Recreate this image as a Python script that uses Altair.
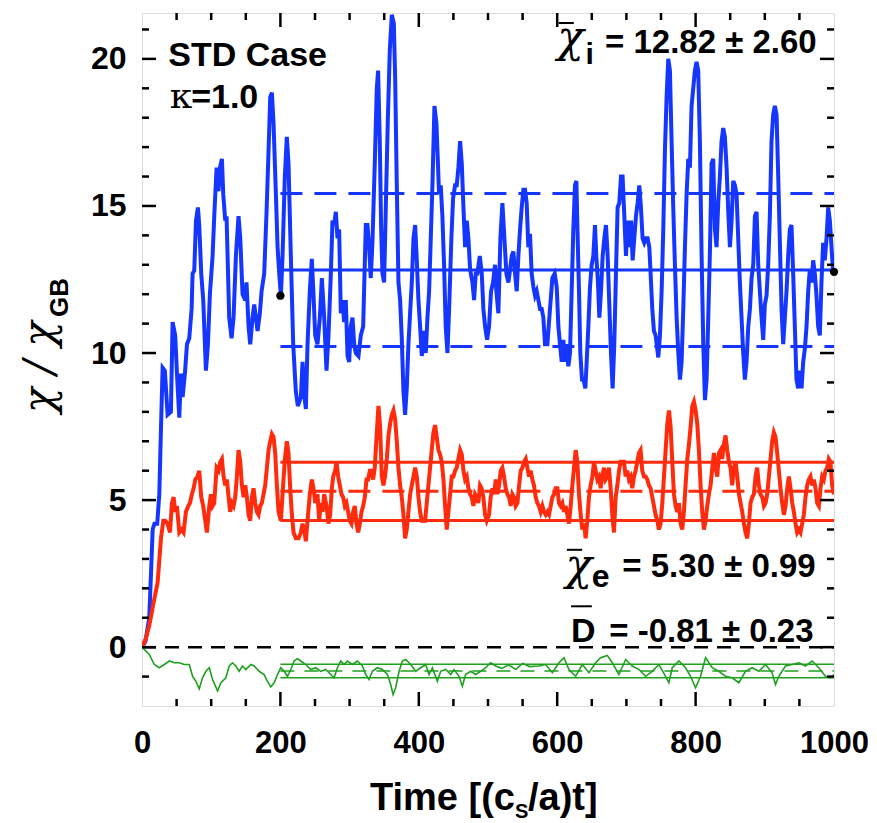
import altair as alt
import pandas as pd

FONT = "Liberation Sans"
GREEK = "DejaVu Serif"

# ---------------- data ----------------
chi_i = [(0,0),(5,0.2),(10.5,1.0),(13,2.5),(15.4,4.0),(18,4.2),(22,4.2),(25,5.2),(27.5,7.5),(29.8,9.5),(33,9.4),(37,7.9),(41.8,8.0),(44.2,11.05),(48,10.6),(50.5,9.3),(53.9,7.8),(56.3,9.3),(58.7,8.5),(62,9.3),(65,10.3),(68.3,10.5),(71.7,11.5),(73.1,12.7),(75.5,12.8),(78,14.5),(80.8,14.95),(82.7,14.35),(85.6,12.7),(88.5,11.8),(92.4,9.4),(95.3,10.3),(98.1,12.0),(102,13.3),(104.4,14.65),(107.8,16.3),(110.6,15.5),(112.6,16.3),(115.5,16.6),(117.4,15.4),(120.3,14.5),(122.2,14.65),(126,11.2),(129.4,10.5),(132.3,11.2),(135.7,13.3),(139.5,14.65),(142,13.9),(145.3,12.0),(149.2,11.8),(151,12.4),(154,10.9),(156.4,10.3),(159.7,11.2),(162.2,11.65),(164.6,11.2),(167,10.75),(170.3,11.35),(172.8,12.1),(176.6,12.7),(180,14.8),(182.9,16.9),(185.3,18.7),(187.7,18.85),(190.1,17.8),(193.5,15.4),(195.9,13.6),(198.3,12.7),(200.7,11.95),(203.1,13.3),(206.4,16.0),(209.3,17.35),(211.7,16.45),(215.1,13.3),(218.5,10.3),(222.3,8.7),(225.2,8.2),(229.6,8.5),(232,9.7),(234.9,8.5),(236.8,8.1),(239.2,10.3),(242.5,12.1),(245.4,13.2),(247.8,12.0),(250.3,10.6),(253.6,10.3),(257,11.2),(259.9,12.55),(263.3,11.2),(266.6,9.4),(269.5,10.6),(272.9,12.7),(275.3,14.5),(277.7,14.35),(280.1,14.8),(282.5,13.9),(284.9,14.2),(287.3,11.35),(289.7,11.8),(292.1,11.05),(294.5,11.8),(297,9.9),(299.4,9.7),(301.8,10.9),(304.2,11.2),(306.6,10.3),(309,10.0),(312.8,9.9),(316.2,10.6),(319.6,10.9),(323.4,14.35),(325.8,14.35),(328.2,13.6),(330.6,12.55),(333,13.75),(336.4,16.45),(339.3,19.0),(341.2,19.6),(343.6,17.2),(345.6,14.2),(347.5,12.7),(349.9,12.4),(352.3,14.95),(355.2,17.9),(358.1,20.3),(361,21.5),(363.9,21.2),(365.8,19.4),(368.2,15.7),(370.6,12.4),(373,11.8),(375.4,10.5),(377.8,8.7),(380.2,7.9),(382.6,8.8),(385,10.3),(387.4,11.35),(389.9,12.4),(392.3,13.9),(394.7,14.35),(397.1,13.15),(399.5,11.8),(401.9,10.9),(404.3,9.9),(407.7,10.75),(410.1,10.0),(412.5,11.2),(414.9,12.1),(417.3,13.9),(419.7,15.7),(422.6,18.4),(425.5,17.8),(427.4,16.6),(429.3,15.4),(431.7,15.7),(434.1,14.65),(436.5,13.0),(438.9,10.9),(441.4,10.0),(443.8,11.5),(447.1,13.9),(449.5,15.25),(452.4,15.7),(454.8,15.7),(457.2,16.3),(459.7,17.2),(462.1,16.45),(464.5,14.95),(466.9,13.6),(469.3,14.5),(471.7,13.9),(474.1,12.85),(477.5,12.4),(479.9,11.8),(482.3,12.7),(484.7,12.7),(488.1,13.3),(491,12.7),(493.3,11.5),(495.8,10.9),(498.7,10.45),(501.5,10.9),(504.4,12.1),(507.3,12.4),(510.2,13.0),(512.1,12.1),(515,11.35),(517.9,13.9),(520.8,15.1),(523.7,13.9),(526.6,12.7),(529.5,12.4),(531.9,12.85),(534.3,13.3),(536.7,13.45),(539.1,12.7),(541.5,12.1),(543.9,13.3),(546.3,14.2),(548.7,14.95),(551.1,15.55),(553.5,15.55),(555.9,15.1),(558.3,13.6),(560.7,14.05),(563.1,12.7),(565.6,12.25),(568,11.95),(570.4,12.1),(572.8,11.8),(575.2,11.5),(577.6,11.5),(580,11.2),(582.4,10.3),(585.8,10.3),(589.1,11.35),(593,12.55),(596.4,12.7),(599.3,12.25),(601.7,10.9),(604.1,10.3),(606.5,9.7),(608.9,10.45),(611.3,9.7),(613.7,10.3),(616.1,9.55),(618.5,10.0),(620.9,12.1),(623.3,14.2),(625.7,15.7),(627.7,15.85),(629.6,13.9),(631.5,12.1),(633.4,10.0),(635.8,9.1),(638.2,9.1),(640.7,8.8),(642.6,9.7),(645,10.9),(647.4,12.25),(649.8,13.0),(652.2,13.3),(654.6,14.35),(656.5,13.3),(658.9,12.4),(660.9,11.2),(663.3,12.1),(665.7,13.3),(668.1,13.9),(670.5,14.35),(672.9,13.3),(675.3,11.65),(677.7,10.0),(680.1,8.8),(682.5,10.3),(684.9,12.7),(687.3,14.95),(689.7,15.1),(692.2,16.0),(694.5,16.0),(697,14.65),(699.4,13.3),(701.8,14.5),(704.2,13.6),(706.6,14.5),(709,13.15),(711.4,13.9),(713.8,14.65),(716.2,15.1),(718.6,15.7),(721,14.95),(723.4,13.9),(725.8,13.75),(728.2,13.9),(730.7,13.9),(733.1,13.6),(735,12.7),(737.4,11.5),(739.8,10.75),(742.2,10.6),(746.1,9.85),(748.5,10.6),(750.9,12.1),(753.3,14.2),(755.7,16.9),(758.1,18.7),(760.5,20.0),(762.9,19.6),(765.3,17.2),(767.7,14.95),(770.1,13.0),(772.6,11.2),(775,10.0),(777.4,9.1),(779.8,9.7),(782.2,11.5),(784.6,13.6),(787,15.4),(789.4,16.6),(791.8,16.3),(794.2,18.4),(796.6,19.0),(799,19.6),(801.4,19.9),(803.8,19.6),(806.2,17.2),(808.7,13.3),(811.1,10.3),(813.5,8.4),(815.9,9.1),(818.3,11.2),(820.7,13.45),(823.1,16.45),(825.5,16.6),(827.9,14.2),(830.3,13.6),(832.7,15.1),(835.1,16.0),(837.5,17.2),(839.9,17.65),(842.3,17.35),(844.8,16.3),(847.2,14.8),(849.6,13.6),(852,14.5),(854.4,15.85),(856.8,15.7),(859.2,15.4),(861.6,13.9),(864,12.4),(866.4,11.2),(868.8,10.0),(871.2,9.1),(873.6,9.7),(876.1,10.9),(878.5,11.5),(880.9,12.55),(883.3,13.0),(885.7,14.65),(888.1,14.8),(890.5,13.0),(892.9,12.1),(895.3,11.2),(897.7,10.45),(900.1,11.65),(902.5,11.95),(904.9,13.0),(907.3,14.65),(909.7,17.2),(912.1,18.1),(914.5,18.4),(917,18.1),(919.4,16.0),(921.8,13.75),(924.2,11.5),(926.6,10.3),(929,11.2),(931.4,12.1),(933.8,13.3),(936.2,14.2),(938.6,14.35),(941,12.7),(943.4,10.9),(945.8,9.1),(948.2,8.8),(950.6,9.4),(953.1,8.8),(955.5,9.7),(957.9,10.15),(960.3,10.9),(962.7,12.1),(965.1,12.85),(967.5,12.4),(969.9,13.15),(972.3,12.7),(974.7,11.95),(977.1,10.9),(979.5,10.6),(981.9,12.4),(984.3,13.75),(986.7,13.15),(989.2,13.9),(991.6,14.95),(994,14.5),(996.4,13.6),(998.8,12.7),(1000,12.76)]

chi_e = [(0,0),(5.7,0.3),(10.5,0.74),(17.8,1.64),(22.6,2.2),(27.4,3.7),(30.8,4.3),(33.6,4.3),(37,4.2),(40.4,3.9),(43.3,4.9),(45.7,5.1),(48.1,4.6),(50.5,4.8),(53.9,3.9),(57.2,4.0),(60.1,3.9),(63.5,4.6),(66.9,4.8),(69.3,4.9),(72.1,5.2),(74.6,5.4),(77,5.7),(80.3,5.8),(82.7,6.0),(85.6,5.1),(88.5,4.8),(91.4,4.3),(93.8,3.9),(97.2,4.8),(99.6,5.2),(102,4.8),(104.4,4.9),(107.8,6.1),(110.6,6.0),(113.1,6.3),(115.5,6.4),(117.9,5.8),(120.3,5.5),(122.7,5.7),(125.1,5.1),(127.5,4.6),(129.9,4.9),(132.3,4.8),(134.7,5.1),(137.1,5.8),(139.5,6.7),(142,6.3),(144.4,5.5),(146.8,5.1),(149.2,5.5),(151.6,5.1),(154,4.5),(156.4,4.3),(158.8,5.1),(161.2,5.4),(163.6,4.9),(166,4.6),(168.4,4.5),(170.8,4.8),(173.2,4.9),(175.6,5.2),(178,5.5),(180.5,6.1),(182.9,6.7),(185.3,7.0),(187.7,7.25),(190.1,7.15),(192.5,6.6),(194.9,5.5),(197.3,4.6),(200.7,4.3),(203.1,5.2),(206.5,6.4),(209.3,7.0),(211.7,6.6),(214.2,5.4),(216.6,4.5),(219,3.9),(222.3,3.7),(226.2,3.7),(229.6,3.9),(232,4.2),(234.9,3.9),(236.8,3.6),(239.2,4.3),(242.5,5.2),(245.4,5.7),(247.8,5.4),(250.3,4.9),(253.6,5.2),(256,4.3),(258.4,4.9),(260.9,4.6),(263.3,5.2),(266.6,4.8),(269.5,4.2),(271.9,4.5),(274.3,5.4),(276.3,5.8),(279.1,6.0),(281.1,6.3),(283.5,5.8),(285.9,5.5),(288.3,5.2),(290.7,5.1),(293.1,4.8),(295.5,4.9),(297.9,4.6),(300.3,4.3),(302.7,4.2),(305.1,4.6),(307.5,4.8),(310,4.2),(312.4,3.9),(314.8,4.2),(317.2,4.6),(319.6,4.8),(322,5.1),(324.4,5.7),(326.8,5.7),(329.2,6.0),(331.6,6.0),(334,5.7),(336.4,6.1),(339.3,7.3),(341.7,8.2),(344.1,7.5),(346.5,5.8),(348.9,5.5),(351.3,5.8),(353.8,6.4),(356.2,7.2),(358.6,7.6),(361,7.9),(363.4,8.05),(365.8,7.75),(368.2,7.0),(370.6,6.1),(373,5.5),(375.4,5.1),(377.8,4.5),(380.2,3.7),(382.6,4.0),(385,4.6),(387.5,5.2),(389.9,5.5),(392.3,5.8),(394.7,6.1),(397.1,5.8),(399.5,5.1),(401.9,4.6),(404.3,4.3),(406.7,4.3),(409.1,4.3),(411.5,4.9),(413.9,5.5),(416.3,6.1),(418.7,6.7),(421.1,7.3),(423.5,7.55),(425.9,7.15),(428.4,6.7),(430.8,6.55),(433.2,6.3),(435.6,5.7),(438,4.8),(440.4,4.0),(442.8,4.6),(445.2,5.2),(447.6,5.8),(450,5.8),(452.4,6.0),(454.8,6.1),(457.2,6.4),(459.7,6.7),(462.1,6.55),(464.5,6.0),(466.9,5.7),(469.3,5.8),(471.7,5.4),(474.1,5.2),(476.5,5.1),(478.9,4.8),(481.3,5.2),(483.7,5.1),(486.1,4.9),(488.5,5.5),(490.9,5.4),(493.3,5.1),(495.8,4.5),(498.2,4.3),(501.5,4.5),(503.9,5.1),(506.4,5.4),(508.8,5.2),(511.2,5.7),(513.6,5.2),(516,5.5),(518.4,6.0),(520.8,6.1),(523.2,5.8),(525.6,5.4),(528,5.2),(530.4,5.1),(532.8,4.8),(535.2,5.2),(537.6,5.1),(540,4.8),(542.5,4.9),(544.9,5.5),(547.3,6.0),(549.7,6.1),(552.1,6.3),(554.5,6.4),(556.9,6.1),(559.3,5.8),(561.7,6.0),(564.1,5.7),(566.5,5.5),(568.9,5.1),(571.3,4.9),(573.7,4.8),(576.1,4.6),(578.6,4.8),(581,4.6),(583.4,4.5),(585.8,4.6),(588.2,4.5),(590.6,4.8),(593,5.1),(595.4,5.2),(597.8,5.4),(600.2,5.4),(602.6,4.9),(605,4.8),(607.4,4.9),(609.8,4.6),(612.2,4.8),(614.7,4.5),(617.1,4.2),(619.5,4.8),(621.9,5.5),(624.3,6.1),(626.7,6.7),(629.1,6.3),(631.5,5.2),(633.9,4.5),(636.3,4.0),(638.7,4.2),(641.1,3.7),(643.5,4.3),(645.9,5.1),(648.3,5.5),(650.8,5.8),(653.2,6.3),(655.6,6.0),(658,5.7),(660.4,5.8),(662.8,5.4),(665.2,5.8),(667.6,6.1),(670,5.7),(672.4,5.8),(674.8,6.1),(677.2,5.4),(679.6,4.5),(682,3.9),(684.5,5.1),(686.9,5.5),(689.3,6.0),(691.7,6.3),(694.1,6.3),(696.5,6.3),(698.9,5.8),(701.3,6.0),(703.7,5.7),(706.1,5.8),(708.5,5.4),(710.9,5.8),(713.3,6.0),(715.7,6.3),(718.1,6.6),(720.5,6.7),(722.9,6.0),(725.4,5.8),(727.8,5.8),(730.2,5.7),(732.6,5.5),(735,5.4),(737.4,5.1),(739.8,4.8),(742.2,4.5),(744.6,4.3),(747,4.0),(749.4,4.2),(751.9,4.9),(754.3,5.8),(756.7,6.7),(759.1,7.6),(761.5,8.05),(763.9,7.5),(766.3,6.3),(768.7,5.2),(771.1,4.8),(773.5,4.6),(775.9,4.9),(778.3,4.2),(780.7,4.0),(783.1,4.6),(785.5,5.5),(788,6.4),(790.4,6.9),(792.8,7.5),(795.2,8.2),(797.6,8.35),(800,8.05),(802.4,7.6),(804.8,6.7),(807.2,5.5),(809.6,4.6),(812,4.0),(814.4,4.3),(816.8,4.8),(819.2,5.2),(821.6,5.5),(824.1,6.1),(826.5,6.6),(828.9,6.1),(831.3,5.8),(833.7,6.6),(836.1,6.7),(838.5,6.4),(840.9,6.9),(843.3,7.2),(845.7,6.7),(848.1,6.3),(850.5,6.1),(852.9,5.5),(855.3,6.1),(857.8,6.3),(860.2,5.8),(862.6,5.2),(865,4.9),(867.4,4.6),(869.8,4.2),(872.2,3.9),(874.6,3.7),(877,4.2),(879.4,4.9),(881.8,5.1),(884.2,5.2),(886.6,5.8),(889,6.1),(891.4,5.5),(893.8,5.2),(896.3,5.1),(898.7,4.8),(901.1,4.9),(903.5,5.2),(905.9,5.8),(908.3,6.4),(910.7,7.0),(913.1,7.3),(915.5,7.15),(917.9,6.6),(920.3,6.0),(922.7,5.4),(925.1,4.9),(927.6,4.5),(930,4.8),(932.4,5.4),(934.8,5.8),(937.2,5.4),(939.6,4.9),(942,4.6),(944.4,4.2),(946.8,3.9),(949.2,4.0),(951.6,3.9),(954,4.2),(956.4,4.5),(958.8,5.1),(961.2,5.5),(963.6,5.7),(966,5.8),(968.4,5.5),(970.9,5.7),(973.3,5.4),(975.7,4.9),(978.1,4.8),(980.5,5.4),(982.9,5.8),(985.3,5.7),(987.7,6.0),(990.1,6.1),(992.5,6.4),(994.9,6.3),(997.3,5.5),(1000,5.2)]

d_series = [(0,0),(10.6,-0.25),(17.8,-0.59),(25,-0.70),(32.3,-0.59),(39.5,-0.47),(46.7,-0.53),(53.9,-0.53),(61.1,-0.59),(68.3,-0.59),(73.1,-0.99),(77.9,-1.16),(82.7,-1.42),(87.5,-1.04),(92.3,-0.82),(97.2,-0.70),(102,-1.10),(109.2,-1.49),(114,-1.21),(121.2,-1.04),(126,-0.64),(130.8,-0.53),(135.6,-0.64),(140.4,-0.82),(145.2,-0.64),(150,-0.76),(157.3,-0.59),(162.1,-0.64),(169.3,-0.82),(176.5,-0.93),(181.3,-1.16),(186.1,-1.35),(190.9,-1.21),(195.8,-0.93),(200.6,-0.70),(205.4,-0.82),(210.2,-0.99),(215,-0.76),(219.8,-0.47),(224.6,-0.39),(229.4,-0.47),(236.7,-0.59),(243.9,-0.76),(251.1,-0.70),(258.3,-0.82),(265.5,-0.76),(272.8,-0.93),(277.6,-1.04),(282.4,-0.70),(287.2,-0.47),(292,-0.59),(296.8,-0.47),(304.1,-0.59),(311.3,-0.47),(318.5,-0.64),(323.3,-0.93),(328.1,-1.10),(332.9,-0.82),(340.2,-0.70),(347.4,-0.76),(354.6,-0.93),(359.4,-1.27),(362.8,-1.61),(366.6,-1.38),(371.5,-0.82),(376.3,-0.47),(381.1,-0.42),(388.3,-0.59),(395.5,-0.82),(402.8,-0.70),(410,-0.59),(414.8,-0.93),(419.6,-0.70),(426.8,-1.16),(431.6,-0.82),(438.8,-0.76),(446.1,-0.93),(450.9,-0.76),(458.1,-0.99),(462.9,-1.33),(467.7,-0.93),(474.9,-0.82),(482.2,-0.93),(489.4,-0.82),(496.6,-0.70),(503.8,-0.53),(511.1,-0.64),(520,-0.72),(530,-0.60),(540,-0.76),(550,-0.55),(560,-0.66),(573.7,-0.64),(583.3,-0.59),(593,-0.87),(602.6,-0.53),(609.8,-0.36),(617,-0.76),(626.6,-0.99),(636.3,-0.59),(645.9,-0.87),(655.5,-0.53),(662.7,-0.36),(672.4,-0.28),(679.6,-0.53),(689.2,-0.93),(698.9,-0.42),(708.5,-0.64),(718.1,-0.76),(727.7,-0.99),(737.4,-0.82),(747,-0.59),(756.6,-0.99),(761.4,-1.21),(766.3,-0.70),(775.9,-0.47),(785.5,-0.70),(792.7,-0.99),(799.9,-1.38),(807.2,-0.99),(814.4,-0.36),(824,-0.70),(833.6,-0.82),(843.3,-0.99),(852.9,-1.04),(862.5,-1.21),(872.1,-0.82),(881.8,-0.70),(891.4,-0.82),(901,-0.59),(910.6,-0.87),(915.4,-1.27),(920.3,-0.99),(929.9,-0.64),(939.5,-0.59),(949.2,-0.53),(958.8,-0.64),(968.4,-0.47),(978,-0.70),(987.6,-0.99),(994.9,-1.04),(1000,-0.93)]

# averages over the window 200..1000 (mean, std)
avg_window = [200, 1000]
stats_i = (12.82, 2.60)
stats_e = (5.30, 0.99)
stats_d = (-0.81, 0.23)
end_dots = [(200, 11.95), (1000, 12.76)]

x_labels = [0, 200, 400, 600, 800, 1000]
y_labels = [0, 5, 10, 15, 20]
x_minor = [v for v in range(50, 1000, 50) if v % 200]
x_major = [200, 400, 600, 800]
y_minor = [v for v in range(-1, 22) if v % 5]
y_major = [0, 5, 10, 15, 20]

BLUE, RED, GREEN = "#1436FF", "#FF2B0C", "#1FA01F"
W, H = 692, 693

xs = alt.Scale(domain=[0, 1000], nice=False, zero=False)
ys = alt.Scale(domain=[-2, 21.56], nice=False, zero=False)

x_axis = alt.Axis(values=x_labels, format="d", title=None, grid=False, ticks=False, tickSize=0, domain=False,
                  labelFont=FONT, labelFontSize=31, labelFontWeight="bold", labelColor="black",
                  labelPadding=22, labelFlush=False, labelOverlap=False)
y_axis = alt.Axis(values=y_labels, format="d", title=None, grid=False, ticks=False, tickSize=0, domain=False,
                  labelFont=FONT, labelFontSize=32, labelFontWeight="bold", labelColor="black",
                  labelPadding=16, labelFlush=False, labelOverlap=False)


def X(f):
    return alt.X(f, type="quantitative", scale=xs, axis=x_axis)


def Y(f):
    return alt.Y(f, type="quantitative", scale=ys, axis=y_axis)


def line(pairs, color, width):
    df = pd.DataFrame(pairs, columns=["t", "v"])
    return alt.Chart(df).mark_line(color=color, strokeWidth=width, clip=True).encode(
        x=X("t"), y=Y("v"))


def hline(v, color, width, dash=None, t0=avg_window[0], t1=avg_window[1]):
    df = pd.DataFrame({"t": [t0], "t1": [t1], "v": [v]})
    kw = dict(color=color, strokeWidth=width)
    if dash:
        kw["strokeDash"] = dash
    return alt.Chart(df).mark_rule(**kw).encode(x=X("t"), x2="t1:Q", y=Y("v"))


def txt(s, t, v, size, weight="bold", align="left", font=FONT, style="normal"):
    df = pd.DataFrame({"t": [t], "v": [v], "s": [s]})
    return alt.Chart(df).mark_text(align=align, baseline="alphabetic", font=font, fontStyle=style,
                                   fontSize=size, fontWeight=weight, color="black").encode(
        x=X("t"), y=Y("v"), text="s:N")


def bar(t0, t1, v):
    df = pd.DataFrame({"t": [t0], "t1": [t1], "v": [v]})
    return alt.Chart(df).mark_rule(color="black", strokeWidth=2).encode(x=X("t"), x2="t1:Q", y=Y("v"))


def ptxt(s, px, py, size, weight="bold", align="left", angle=0, font=FONT, style="normal"):
    df = pd.DataFrame({"s": [s]})
    return alt.Chart(df).mark_text(align=align, baseline="alphabetic", font=font, fontStyle=style,
                                   fontSize=size, fontWeight=weight, color="black",
                                   angle=angle).encode(
        x=alt.value(px), y=alt.value(py), text="s:N")


def xticks(vals, length):
    df = pd.DataFrame({"t": vals})
    bot = alt.Chart(df).mark_rule(color="black", strokeWidth=2.5).encode(
        x=X("t"), y=alt.value(H), y2=alt.value(H - length))
    top = alt.Chart(df).mark_rule(color="black", strokeWidth=2.5).encode(
        x=X("t"), y=alt.value(0), y2=alt.value(length))
    return [bot, top]


def yticks(vals, length):
    df = pd.DataFrame({"v": vals})
    left = alt.Chart(df).mark_rule(color="black", strokeWidth=2.5).encode(
        y=Y("v"), x=alt.value(0), x2=alt.value(length))
    right = alt.Chart(df).mark_rule(color="black", strokeWidth=2.5).encode(
        y=Y("v"), x=alt.value(W), x2=alt.value(W - length))
    return [left, right]


layers = []
layers.append(hline(0, "black", 2.5, dash=[14, 9], t0=0, t1=1000))
layers.append(line(chi_i, BLUE, 4))
layers.append(line(chi_e, RED, 4))
layers.append(line(d_series, GREEN, 1.6))

m, s = stats_i
layers += [hline(m, BLUE, 3), hline(m + s, BLUE, 3, dash=[22, 12]), hline(m - s, BLUE, 3, dash=[22, 12])]
m, s = stats_e
layers += [hline(m, RED, 3, dash=[22, 12]), hline(m + s, RED, 3), hline(m - s, RED, 3)]
m, s = stats_d
layers += [hline(m, GREEN, 1.6, dash=[14, 10]), hline(m + s, GREEN, 1.6), hline(m - s, GREEN, 1.6)]

dots_df = pd.DataFrame(end_dots, columns=["t", "v"])
layers.append(alt.Chart(dots_df).mark_circle(color="black", size=70, opacity=1).encode(x=X("t"), y=Y("v")))

layers += xticks(x_major, 14) + xticks(x_minor, 7) + yticks(y_major, 14) + yticks(y_minor, 7)

# annotations inside the frame
layers += [
    txt("STD Case", 38.0, 19.75, 34),
    txt("κ", 40.0, 18.34, 36, weight="normal", font=GREEK),
    txt("=1.0", 71.0, 18.34, 34),
    txt("χ", 600.0, 20.22, 44, weight="normal", font=GREEK, style="italic"),
    bar(602.0, 624.0, 21.22),
    txt("i", 641.0, 19.81, 30),
    txt("= 12.82 ± 2.60", 975.0, 20.20, 33, align="right"),
    txt("χ", 612.0, 2.27, 44, weight="normal", font=GREEK, style="italic"),
    bar(614.0, 636.0, 3.31),
    txt("e", 650.0, 2.06, 32),
    txt("= 5.30 ± 0.99", 973.5, 2.40, 33, align="right"),
    bar(620.0, 650.0, 1.39),
    txt("D", 620.0, 0.16, 34),
    txt("= -0.81 ± 0.23", 970.5, 0.16, 33, align="right"),
]

# axis titles with subscripts (pixel positions relative to the plot area)
layers += [
    ptxt("Time [(c", 373, 797, 38, align="right"),
    ptxt("S", 373, 805, 20),
    ptxt("/a)t]", 386, 797, 38),
    ptxt("χ / χ", -89, 400, 42, weight="normal", angle=270, font=GREEK, style="italic"),
    ptxt("GB", -74, 304, 26, angle=270),
]

chart = alt.layer(*layers).properties(
    width=W, height=H,
    autosize=alt.AutoSizeParams(type="none"),
    padding={"left": 134, "top": 5, "right": 34, "bottom": 116},
).configure_view(stroke="black", strokeWidth=3).configure(background="white")

chart.save("out.html", embed_options={"renderer": "svg", "actions": False})
